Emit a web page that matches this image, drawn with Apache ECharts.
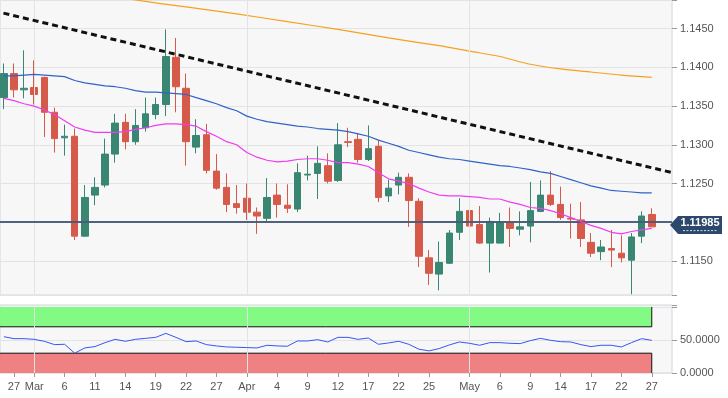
<!DOCTYPE html>
<html>
<head>
<meta charset="utf-8">
<title>EUR/USD daily</title>
<script src="https://cdn.jsdelivr.net/npm/echarts@6.0.0/dist/echarts.min.js"></script>
<style>
  html, body { margin: 0; padding: 0; background: #fff; }
  #chart { width: 728px; height: 398px; }
</style>
</head>
<body>
<div id="chart"></div>
<script>
// trading days shown, Feb 26 .. May 27
var dates = ['02-26','02-27','02-28','03-01','03-04','03-05','03-06','03-07','03-08','03-11','03-12','03-13','03-14','03-15','03-18','03-19','03-20','03-21','03-22','03-25','03-26','03-27','03-28','03-29','04-01','04-02','04-03','04-04','04-05','04-08','04-09','04-10','04-11','04-12','04-15','04-16','04-17','04-18','04-19','04-22','04-23','04-24','04-25','04-26','04-29','04-30','05-01','05-02','05-03','05-06','05-07','05-08','05-09','05-10','05-13','05-14','05-15','05-16','05-17','05-20','05-21','05-22','05-23','05-24','05-27'];

var opens = [1.1361,1.1392,1.1371,1.1374,1.1387,1.1342,1.1309,1.1311,1.1182,1.1235,1.1248,1.1288,1.1329,1.1304,1.1322,1.1339,1.1352,1.1413,1.1373,1.1297,1.1313,1.1266,1.1245,1.1224,1.1231,1.1213,1.1205,1.1235,1.1222,1.1217,1.1261,1.1263,1.1273,1.1254,1.1304,1.1307,1.1281,1.1298,1.1234,1.1248,1.1258,1.1227,1.1154,1.1133,1.1147,1.1187,1.1215,1.1197,1.1173,1.1173,1.1199,1.1191,1.1195,1.1214,1.1235,1.1223,1.1205,1.1203,1.1174,1.1162,1.1166,1.1160,1.1151,1.1182,1.1210];
var closes = [1.1392,1.1371,1.1373,1.1365,1.1342,1.1308,1.1311,1.1182,1.1232,1.1245,1.1288,1.1328,1.1304,1.1325,1.1340,1.1352,1.1414,1.1375,1.1304,1.1312,1.1267,1.1244,1.1223,1.1219,1.1213,1.1208,1.1232,1.1223,1.1218,1.1264,1.1262,1.1276,1.1253,1.1300,1.1303,1.1281,1.1295,1.1232,1.1244,1.1258,1.1228,1.1156,1.1134,1.1148,1.1186,1.1214,1.1195,1.1173,1.1201,1.1200,1.1192,1.1194,1.1215,1.1235,1.1223,1.1206,1.1204,1.1179,1.1160,1.1168,1.1164,1.1154,1.1181,1.1208,1.1194];
var lows = [1.1346,1.1361,1.1360,1.1352,1.1310,1.1290,1.1286,1.1177,1.1181,1.1222,1.1245,1.1277,1.1294,1.1300,1.1317,1.1333,1.1337,1.1342,1.1273,1.1289,1.1263,1.1242,1.1213,1.1211,1.1203,1.1185,1.1201,1.1206,1.1212,1.1213,1.1254,1.1230,1.1250,1.1252,1.1297,1.1277,1.1279,1.1226,1.1226,1.1236,1.1194,1.1142,1.1119,1.1112,1.1146,1.1177,1.1187,1.1172,1.1135,1.1173,1.1168,1.1183,1.1174,1.1213,1.1221,1.1203,1.1179,1.1168,1.1155,1.1151,1.1142,1.1148,1.1107,1.1173,1.1194];
var highs = [1.1405,1.1405,1.1422,1.1409,1.1388,1.1348,1.1326,1.1321,1.1248,1.1258,1.1308,1.1340,1.1340,1.1346,1.1361,1.1361,1.1449,1.1438,1.1392,1.1333,1.1327,1.1288,1.1263,1.1248,1.1250,1.1219,1.1257,1.1250,1.1249,1.1276,1.1286,1.1298,1.1289,1.1328,1.1322,1.1315,1.1325,1.1306,1.1255,1.1264,1.1263,1.1231,1.1164,1.1175,1.1190,1.1231,1.1266,1.1221,1.1206,1.1212,1.1219,1.1214,1.1252,1.1254,1.1266,1.1246,1.1224,1.1226,1.1186,1.1177,1.1190,1.1183,1.1186,1.1214,1.1218];

// moving averages
var maFast = [1.1360,1.1357,1.1353,1.1350,1.1345,1.1339,1.1331,1.1323,1.1319,1.1316,1.1316,1.1316,1.1317,1.1320,1.1322,1.1325,1.1327,1.1327,1.1326,1.1324,1.1317,1.1311,1.1304,1.1300,1.1290,1.1284,1.1280,1.1278,1.1279,1.1281,1.1282,1.1282,1.1280,1.1277,1.1277,1.1275,1.1272,1.1264,1.1256,1.1253,1.1250,1.1244,1.1239,1.1235,1.1234,1.1234,1.1233,1.1232,1.1230,1.1230,1.1226,1.1223,1.1219,1.1218,1.1215,1.1211,1.1206,1.1201,1.1196,1.1192,1.1187,1.1185,1.1188,1.1190,1.1192];
var maMid = [1.1389,1.1389,1.1390,1.1391,1.1390,1.1389,1.1388,1.1383,1.1380,1.1378,1.1376,1.1375,1.1373,1.1370,1.1368,1.1368,1.1367,1.1366,1.1365,1.1361,1.1357,1.1353,1.1348,1.1344,1.1337,1.1333,1.1330,1.1328,1.1326,1.1324,1.1323,1.1321,1.1320,1.1319,1.1317,1.1314,1.1311,1.1306,1.1302,1.1298,1.1293,1.1290,1.1287,1.1284,1.1282,1.1281,1.1279,1.1277,1.1275,1.1273,1.1272,1.1270,1.1268,1.1265,1.1263,1.1259,1.1255,1.1251,1.1247,1.1244,1.1241,1.1240,1.1239,1.1238,1.1238];
var maSlowIdx = [0,7,13,18,23,28,33,38,43,46,49,52,55,58,61,64];
var maSlow = [1.1514,1.1499,1.1487,1.1478,1.1469,1.1459,1.1449,1.1438,1.1428,1.1421,1.1414,1.1404,1.1398,1.1394,1.1390,1.1387];

// falling resistance line
var trendIdx = [-1, 67];
var trendVal = [1.1473, 1.1261];

var rsi = [55,52,52,51,48,43,43.5,30,38,40,46,51,48,51,52.5,54,60,54,47.5,48.5,43,41,39.5,39,38.5,38,42,41,40.5,48.5,48.5,50.5,47,54,54,51,53,43.5,45.5,48,43.5,36,33.5,37,42.5,47,45,42,46,46,45,44.5,49,52.5,49.5,47.5,47,43,40,42,42,39.5,46,52,49.5];
var rsiHigh = 70, rsiLow = 30, rsiTop = 100;

var tickIdx = [1,3,6,9,12,15,18,21,24,27,30,33,36,39,42,46,49,52,55,58,61,64];
var tickText = ['27','Mar','6','11','14','19','22','27','Apr','4','9','12','17','22','25','May','6','9','14','17','22','27'];
var monthIdx = [3, 24, 46];
// 1.1200 sits under the quote tag, so no label there
var priceLabels = [1.115, 1.125, 1.13, 1.135, 1.14, 1.145];

var lastQuote = 1.11985;

var GREEN = '#398672', RED = '#d65a4a';
var FONT = 'Liberation Sans, Arial, sans-serif';

var candles = dates.map(function (d, i) { return [i, opens[i], closes[i], lows[i], highs[i]]; });
function pairs(xs, ys) { return xs.map(function (x, i) { return [x, ys[i]]; }); }
function byIndex(ys) { return ys.map(function (v, i) { return [i, v]; }); }
var last = dates.length - 1;

var monthLines = monthIdx.map(function (m) { return { xAxis: m }; });

var chart = echarts.init(document.getElementById('chart'), null, { renderer: 'canvas' });

var option = {
  animation: false,
  backgroundColor: '#ffffff',
  grid: [
    { left: -1, right: 56, top: -1, height: 296, show: true, backgroundColor: '#f7f7f7', borderColor: '#cfd6e4', borderWidth: 1 },
    { left: -1, right: 56, top: 305, height: 68, show: true, backgroundColor: '#f7f7f7', borderColor: '#cfd6e4', borderWidth: 1 }
  ],
  xAxis: [
    { type: 'value', gridIndex: 0, min: -0.38, max: 66,
      axisLine: { show: false, onZero: false }, axisTick: { show: false }, axisLabel: { show: false }, splitLine: { show: false } },
    { type: 'value', gridIndex: 1, min: -0.38, max: 66,
      axisLine: { show: false, onZero: false },
      axisTick: { show: true, customValues: tickIdx, length: 4, lineStyle: { color: '#9a9a9a' } },
      axisLabel: { customValues: tickIdx, margin: 8, color: '#555', fontSize: 11, fontFamily: FONT,
        formatter: function (v) { var k = tickIdx.indexOf(Math.round(v)); return k < 0 ? '' : tickText[k]; } },
      splitLine: { show: false } }
  ],
  yAxis: [
    { type: 'value', gridIndex: 0, position: 'right', min: 1.1106, max: 1.1487, scale: true,
      minInterval: 0.005, maxInterval: 0.005,
      axisLine: { show: false, onZero: false },
      axisTick: { show: true, length: 5, lineStyle: { color: '#9a9a9a' } },
      axisLabel: { customValues: priceLabels, margin: 8, color: '#555', fontSize: 11, fontFamily: FONT,
        formatter: function (v) { return v.toFixed(4); } },
      splitLine: { lineStyle: { color: '#e3e3e3', width: 1 } } },
    { type: 'value', gridIndex: 1, position: 'right', min: 0, max: 103, interval: 50,
      axisLine: { show: false, onZero: false },
      axisTick: { show: true, length: 5, lineStyle: { color: '#9a9a9a' } },
      axisLabel: { customValues: [0, 50], margin: 8, color: '#555', fontSize: 11, fontFamily: FONT,
        formatter: function (v) { return v.toFixed(4); } },
      splitLine: { lineStyle: { color: '#e3e3e3', width: 1 } } }
  ],
  series: [
    { // month separators, main panel
      type: 'line', xAxisIndex: 0, yAxisIndex: 0, data: [], z: 1, silent: true,
      markLine: { silent: true, symbol: 'none', label: { show: false },
        lineStyle: { color: '#e3e3e3', width: 1, type: 'solid' }, data: monthLines }
    },
    {
      type: 'line', name: 'SMA200', xAxisIndex: 0, yAxisIndex: 0, data: pairs(maSlowIdx, maSlow),
      showSymbol: false, smooth: 0.3, z: 3, lineStyle: { color: '#f5a11f', width: 1.2 }
    },
    {
      type: 'candlestick', xAxisIndex: 0, yAxisIndex: 0, data: candles, barWidth: 7, z: 4,
      itemStyle: { color: GREEN, color0: RED, borderColor: GREEN, borderColor0: RED, borderWidth: 1 }
    },
    {
      type: 'line', name: 'SMA20', xAxisIndex: 0, yAxisIndex: 0, data: byIndex(maFast),
      showSymbol: false, z: 5, lineStyle: { color: '#f03cf0', width: 1.2 }
    },
    {
      type: 'line', name: 'SMA50', xAxisIndex: 0, yAxisIndex: 0, data: byIndex(maMid),
      showSymbol: false, z: 5, lineStyle: { color: '#2f63c6', width: 1.2 }
    },
    {
      type: 'line', name: 'trend', xAxisIndex: 0, yAxisIndex: 0, data: pairs(trendIdx, trendVal),
      showSymbol: false, z: 6, lineStyle: { color: '#111', width: 3, type: [6, 4], cap: 'butt' }
    },
    { // price lines
      type: 'line', xAxisIndex: 0, yAxisIndex: 0, data: [], z: 7, silent: true,
      markLine: { silent: true, symbol: 'none', label: { show: false },
        data: [
          { yAxis: lastQuote, lineStyle: { color: '#b3b3b3', width: 1.5, type: 'solid' } },
          { yAxis: closes[last], lineStyle: { color: '#2b4468', width: 1.5, type: 'solid' } }
        ] }
    },
    { // RSI panel
      type: 'line', name: 'RSI', xAxisIndex: 1, yAxisIndex: 1, data: byIndex(rsi),
      showSymbol: false, z: 5, lineStyle: { color: '#3656f4', width: 1 },
      markArea: { silent: true, itemStyle: { opacity: 0.95 },
        data: [
          [{ xAxis: -1, yAxis: rsiHigh, itemStyle: { color: '#7bfa7d' } }, { xAxis: last, yAxis: rsiTop }],
          [{ xAxis: -1, yAxis: 0, itemStyle: { color: '#ef7a7c' } }, { xAxis: last, yAxis: rsiLow }]
        ] },
      markLine: { silent: true, symbol: 'none', label: { show: false },
        lineStyle: { color: '#e3e3e3', width: 1, type: 'solid' }, data: monthLines }
    },
    {
      type: 'line', xAxisIndex: 1, yAxisIndex: 1, data: pairs([-1, last, last], [rsiHigh, rsiHigh, rsiTop]),
      showSymbol: false, z: 4, silent: true, lineStyle: { color: '#111', width: 1 }
    },
    {
      type: 'line', xAxisIndex: 1, yAxisIndex: 1, data: pairs([-1, last, last], [rsiLow, rsiLow, 0]),
      showSymbol: false, z: 4, silent: true, lineStyle: { color: '#111', width: 1 }
    }
  ]
};

chart.setOption(option);

// quote tag on the price axis
var yA = chart.convertToPixel({ yAxisIndex: 0 }, lastQuote);
var yB = chart.convertToPixel({ yAxisIndex: 0 }, closes[last]);
var xTip = chart.convertToPixel({ xAxisIndex: 0 }, 66) - 2;
var yc = (yA + yB) / 2;
chart.setOption({
  graphic: [
    { type: 'polygon', z: 100, x: xTip, y: yc,
      shape: { points: [[0, 0], [8, -9], [52, -9], [52, 9], [8, 9]] }, style: { fill: '#2c486c' } },
    { type: 'text', z: 101, x: xTip + 30, y: yc - 2,
      style: { text: lastQuote.toFixed(5), fill: '#ffffff', font: 'bold 11px ' + FONT, align: 'center', verticalAlign: 'middle' } },
    { type: 'line', z: 101, x: xTip, y: yc,
      shape: { x1: 13, y1: 5.5, x2: 48, y2: 5.5 }, style: { stroke: '#ffffff', lineWidth: 1, lineDash: [2, 1.5], opacity: 0.8 } }
  ]
});
</script>
</body>
</html>
